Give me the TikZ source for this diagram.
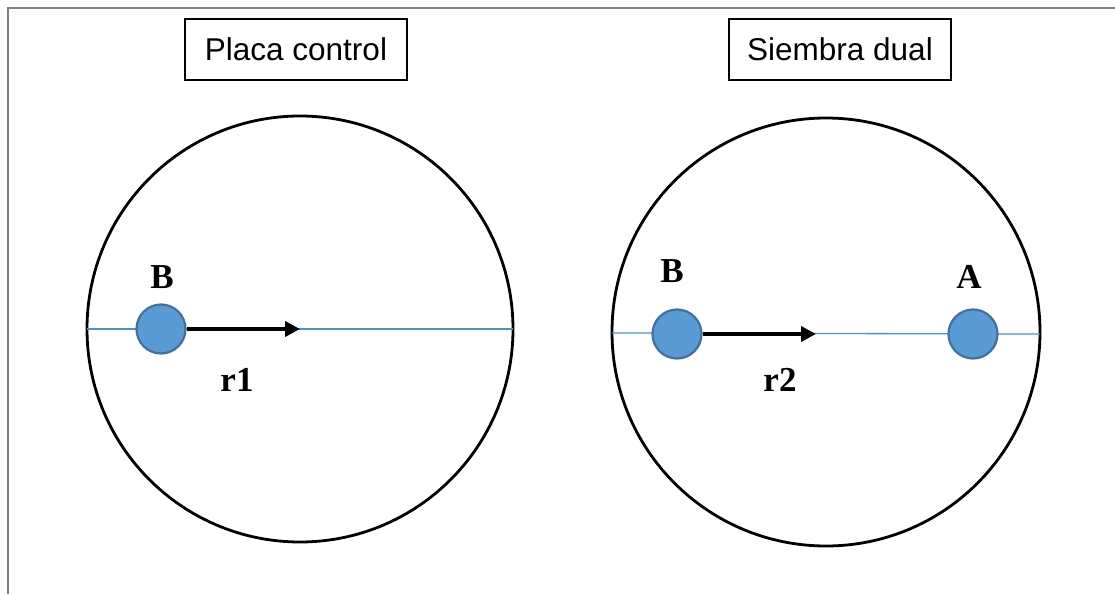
\documentclass[tikz,border=0pt]{standalone}
\usepackage{fontspec}
\setmainfont{Liberation Serif}
\newfontfamily\arialfont{Liberation Sans}
\usetikzlibrary{arrows.meta}
\definecolor{dotblue}{HTML}{5B9BD5}
\definecolor{axisblue}{HTML}{4A90D9}
\definecolor{dotedge}{HTML}{41719C}
\definecolor{framegray}{HTML}{808080}
\begin{document}
\begin{tikzpicture}[x=1pt,y=-1pt,
  plate/.style={draw=black,line width=2.8pt},
  axis/.style={draw=axisblue,line width=1.3pt},
  colony/.style={circle,fill=dotblue,draw=dotedge,line width=2.2pt,minimum size=49pt,inner sep=0pt},
  titlebox/.style={draw=black,line width=1.3pt,minimum width=222pt,minimum height=61pt,inner sep=0pt,font=\arialfont\fontsize{31.5}{36}\selectfont},
  lbl/.style={font=\bfseries\fontsize{35}{40}\selectfont,inner sep=0pt},
  vec/.style={draw=black,line width=4pt,-{Triangle[length=15pt,width=15pt]}}]
\useasboundingbox (0,0) rectangle (1115,594);
\draw[framegray,line width=2.5pt] (8,594) -- (8,8) -- (1115,8);
% left plate
\node[titlebox] (t1) at (296,49.5) {Placa control};
\draw[plate] (300,329) circle[radius=213];
\coordinate (l1a) at (87,329);
\coordinate (l1b) at (513,329);
\draw[axis] (l1a) -- (l1b);
\node[colony] (b1) at (161,329) {};
\coordinate (e1) at (300,329);
\draw[vec] (b1.east) -- (e1);
\node[lbl] (lb1) at (162,277) {B};
\node[lbl] (lr1) at (237,380) {r1};
% right plate
\node[titlebox] (t2) at (840,49.5) {Siembra dual};
\draw[plate] (826,332) circle[radius=214];
\coordinate (l2a) at (612,333);
\coordinate (l2b) at (1040,334);
\draw[axis] (l2a) -- (l2b);
\node[colony] (b2) at (677,334) {};
\node[colony] (a2) at (973,334) {};
\coordinate (e2) at (816,334);
\draw[vec] (b2.east) -- (e2);
\node[lbl] (lb2) at (672,271) {B};
\node[lbl] (la2) at (969,277) {A};
\node[lbl] (lr2) at (780,380) {r2};
\end{tikzpicture}
\end{document}
